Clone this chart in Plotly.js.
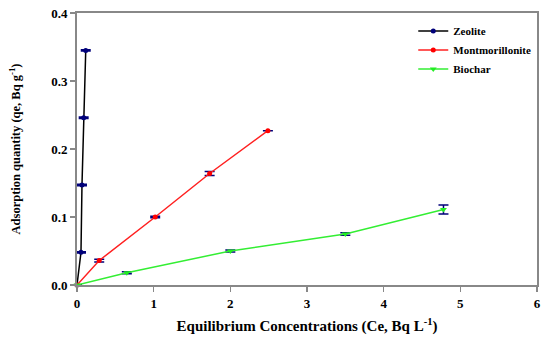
<!DOCTYPE html>
<html>
<head>
<meta charset="utf-8">
<script src="https://cdn.plot.ly/plotly-3.0.1.min.js"></script>
<style>html,body{margin:0;padding:0;background:#fff;}#chart{width:550px;height:342px;}</style>
</head>
<body>
<div id="chart"></div>
<script>
var zeoliteCe = [0, 0.052, 0.065, 0.087, 0.114];
var zeoliteQe = [0, 0.048, 0.147, 0.246, 0.345];
var zeoliteErr = [0, 0.001, 0.001, 0.001, 0.001];

var montCe = [0, 0.29, 1.02, 1.73, 2.49];
var montQe = [0, 0.036, 0.100, 0.164, 0.227];
var montErr = [0, 0.002, 0.001, 0.003, 0];

var biocharCe = [0, 0.65, 2.0, 3.5, 4.78];
var biocharQe = [0, 0.018, 0.050, 0.075, 0.111];
var biocharErr = [0, 0.0015, 0.0015, 0.002, 0.0066];

var xTicks = [0, 1, 2, 3, 4, 5, 6];
var yTicks = [0.0, 0.1, 0.2, 0.3, 0.4];

var F = '"Liberation Serif", serif';
var errStyle = function(arr){ return {type:'data', array: arr, visible:true, color:'#00007a', thickness:1.5, width:5}; };

var traces = [
  {x: zeoliteCe, y: zeoliteQe, name: 'Zeolite', mode: 'lines+markers', type: 'scatter',
   line: {color: '#000000', width: 1.5}, marker: {color: '#00007a', size: 5, symbol: 'circle'},
   error_y: errStyle(zeoliteErr), cliponaxis: false},
  {x: montCe, y: montQe, name: 'Montmorillonite', mode: 'lines+markers', type: 'scatter',
   line: {color: '#ff2020', width: 1.5}, marker: {color: '#ff0000', size: 5, symbol: 'circle'},
   error_y: errStyle(montErr), cliponaxis: false},
  {x: biocharCe, y: biocharQe, name: 'Biochar', mode: 'lines+markers', type: 'scatter',
   line: {color: '#33ee33', width: 1.5}, marker: {color: '#22ee22', size: 6, symbol: 'triangle-down'},
   error_y: errStyle(biocharErr), cliponaxis: false}
];

var axisCommon = {
  showline: true, linecolor: '#888888', linewidth: 2, mirror: true,
  ticks: 'outside', ticklen: 5, tickwidth: 1.5, tickcolor: '#888888',
  showgrid: false, zeroline: false,
  tickfont: {family: F, size: 13, color: '#000', weight: 'bold'}
};

var layout = {
  width: 550, height: 342,
  margin: {l: 76.5, r: 13, t: 13, b: 57, autoexpand: false},
  paper_bgcolor: '#fff', plot_bgcolor: '#fff',
  font: {family: F},
  showlegend: true,
  legend: {x: 0.731, y: 0.987, xanchor: 'left', yanchor: 'top',
    font: {family: F, size: 11, color: '#000', weight: 'bold'},
    bgcolor: 'rgba(0,0,0,0)', itemwidth: 30, tracegroupgap: 0},
  xaxis: Object.assign({}, axisCommon, {
    range: [0, 6], tickvals: xTicks, ticktext: xTicks.map(String),
    title: {text: 'Equilibrium Concentrations (Ce, Bq L<sup>-1</sup>)', font: {family: F, size: 15, color: '#000', weight: 'bold'}, standoff: 11}
  }),
  yaxis: Object.assign({}, axisCommon, {
    range: [0, 0.4], tickvals: yTicks, ticktext: yTicks.map(function(v){return v.toFixed(1);}),
    title: {text: 'Adsorption quantity (qe, Bq g<sup>-1</sup>)', font: {family: F, size: 12.5, color: '#000', weight: 'bold'}, standoff: 28}
  })
};

Plotly.newPlot('chart', traces, layout, {displayModeBar: false, staticPlot: true});
</script>
</body>
</html>
